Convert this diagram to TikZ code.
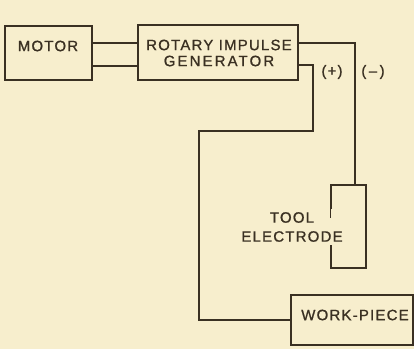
\documentclass[tikz,border=0pt]{standalone}
\usepackage{fontspec}
\setmainfont{Liberation Sans}[LetterSpace=8,FakeBold=1]
\definecolor{paper}{RGB}{247,238,205}
\definecolor{ink}{RGB}{58,48,34}
\begin{document}
\begin{tikzpicture}[x=1pt,y=-1pt,
  box/.style={draw=ink,line width=1.4pt,rectangle,inner sep=0pt},
  lbl/.style={text=ink,font=\fontsize{15}{17}\selectfont,inner sep=0pt,align=center},
  sml/.style={text=ink,font=\fontsize{15}{17}\selectfont,inner sep=0pt},
  wire/.style={draw=ink,line width=1.4pt}]
\fill[paper] (0,0) rectangle (414,349);
\useasboundingbox (0,0) rectangle (414,349);
% boxes
\node[box,minimum width=87pt,minimum height=54pt] (motor) at (48.5,53) {};
\node[box,minimum width=160pt,minimum height=55pt] (gen) at (218,52.5) {};
\node[box,minimum width=35pt,minimum height=83pt] (tool) at (348.5,226.5) {};
\node[box,minimum width=122pt,minimum height=50pt] (work) at (352,320) {};
% texts
\node[lbl] (motortxt) at (48,46) {MOTOR};
\node[lbl] (gentxt) at (219,53) {ROTARY IMPULSE\\[-1pt]{\addfontfeature{LetterSpace=14}GENERATOR}};
\node[lbl,fill=paper,inner ysep=3pt] (tooltxt) at (292,227) {TOOL\\[2pt]ELECTRODE};
\node[lbl] (worktxt) at (355,315) {WORK-PIECE};
\node[sml] (plus) at (332,72) {(+)};
\node[sml] (minus) at (373,72) {(\,–\,)};
% redraw tool box edges over filled text
\draw[wire] (tool.north west) -- (tool.north east) -- (tool.south east) -- (tool.south west);
\draw[wire] (tool.north west) -- ([yshift=-34pt]tool.north west);
\draw[wire] (tool.south west) -- ([yshift=21pt]tool.south west);
% motor to generator
\coordinate (m1) at ([yshift=10pt]motor.east);
\coordinate (m2) at ([yshift=-13pt]motor.east);
\draw[wire] (m1) -- (m1 -| gen.west);
\draw[wire] (m2) -- (m2 -| gen.west);
% (-) line
\coordinate (g1) at ([yshift=9.5pt]gen.east);
\coordinate (t1) at ([xshift=6.5pt]tool.north);
\draw[wire] (g1) -| (t1);
% (+) line
\coordinate (g2) at ([yshift=-12.5pt]gen.east);
\coordinate (p1) at (313,65);
\coordinate (p2) at (313,131);
\coordinate (p3) at (199,131);
\draw[wire] (g2) -- (p1) -- (p2) -- (p3) |- (work.west);
\end{tikzpicture}
\end{document}
